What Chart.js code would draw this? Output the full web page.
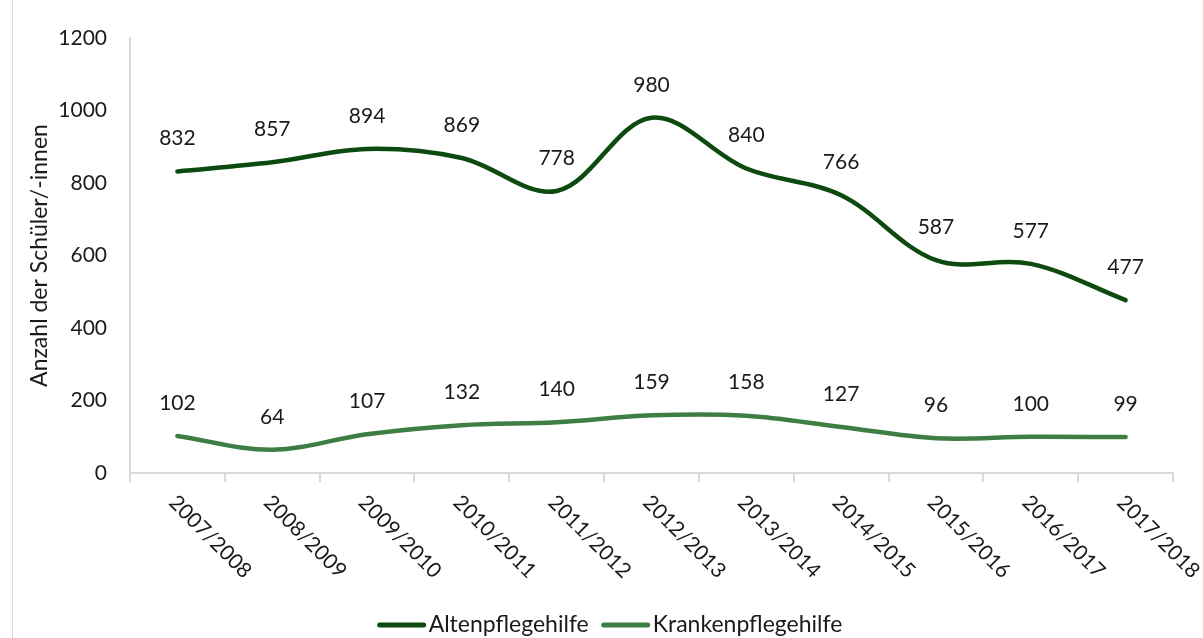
<!DOCTYPE html>
<html>
<head>
    <meta charset="utf-8">
    <title>Schüler/-innen Alten- und Krankenpflegehilfe</title>
    <script src="https://cdn.jsdelivr.net/npm/chart.js"></script>
    <style>
        body {
            margin: 0;
            background: #fff;
            font-family: 'Lato', sans-serif;
        }
        .wrap {
            position: relative;
            width: 1203px;
            height: 638px;
        }
        .frame {
            position: absolute;
            left: 12px;
            top: 0;
            width: 1px;
            height: 638px;
            background: #d9d9d9;
        }
    </style>
</head>
<body>
    <div class="wrap">
        <div class="frame"></div>
        <canvas id="chart"></canvas>
    </div>

    <script>
        const years = ['2007/2008', '2008/2009', '2009/2010', '2010/2011', '2011/2012', '2012/2013',
                       '2013/2014', '2014/2015', '2015/2016', '2016/2017', '2017/2018'];
        const altenpflege = [832, 857, 894, 869, 778, 980, 840, 766, 587, 577, 477];
        const krankenpflege = [102, 64, 107, 132, 140, 159, 158, 127, 96, 100, 99];
        const yTicks = [0, 200, 400, 600, 800, 1000, 1200];

        const FONT = 'Lato';
        const FSIZE = 21;
        const TEXT = '#1a1a1a';
        const AXIS = '#d9d9d9';

        // Werte über den Punkten
        const valueLabels = {
            id: 'valueLabels',
            afterDatasetsDraw(chart) {
                const ctx = chart.ctx;
                ctx.save();
                ctx.font = FSIZE + 'px ' + FONT;
                ctx.fillStyle = TEXT;
                ctx.textAlign = 'center';
                ctx.textBaseline = 'middle';
                chart.data.datasets.forEach((ds, i) => {
                    chart.getDatasetMeta(i).data.forEach((pt, j) => {
                        ctx.fillText(ds.data[j], pt.x, pt.y - 33);
                    });
                });
                ctx.restore();
            }
        };

        // schräge Jahresbeschriftung (nach rechts unten)
        const yearLabels = {
            id: 'yearLabels',
            afterDraw(chart) {
                const ctx = chart.ctx;
                const sx = chart.scales.x;
                ctx.save();
                ctx.font = FSIZE + 'px ' + FONT;
                ctx.fillStyle = TEXT;
                ctx.textAlign = 'left';
                ctx.textBaseline = 'middle';
                years.forEach((y, i) => {
                    const x = sx.getPixelForValue(i);
                    ctx.save();
                    ctx.translate(x - 5, sx.top + 26);
                    ctx.rotate(Math.PI / 4);
                    ctx.fillText(y, 0, 0);
                    ctx.restore();
                });
                ctx.restore();
            }
        };

        // Legende unten, Linie direkt vor dem Text
        const lineLegend = {
            id: 'lineLegend',
            afterDraw(chart) {
                const ctx = chart.ctx;
                const lineW = 48, gap = 3, itemGap = 13, y = 625, cx = 610;
                ctx.save();
                ctx.font = '23px ' + FONT;
                const items = chart.data.datasets.map(ds => ({
                    text: ds.label, color: ds.borderColor, w: ctx.measureText(ds.label).width
                }));
                const total = items.reduce((s, it) => s + lineW + gap + it.w, 0) + itemGap * (items.length - 1);
                let x = cx - total / 2;
                ctx.textAlign = 'left';
                ctx.textBaseline = 'middle';
                items.forEach(it => {
                    ctx.strokeStyle = it.color;
                    ctx.lineWidth = 5;
                    ctx.lineCap = 'round';
                    ctx.beginPath();
                    ctx.moveTo(x + 2, y);
                    ctx.lineTo(x + lineW - 2, y);
                    ctx.stroke();
                    ctx.fillStyle = TEXT;
                    ctx.fillText(it.text, x + lineW + gap, y);
                    x += lineW + gap + it.w + itemGap;
                });
                ctx.restore();
            }
        };

        const chart = new Chart(document.getElementById('chart'), {
            type: 'line',
            data: {
                labels: years,
                datasets: [{
                    label: 'Altenpflegehilfe',
                    data: altenpflege,
                    borderColor: '#0c4a10',
                    backgroundColor: '#0c4a10',
                    borderWidth: 4.5,
                    borderCapStyle: 'round',
                    pointRadius: 0,
                    tension: 0.35
                }, {
                    label: 'Krankenpflegehilfe',
                    data: krankenpflege,
                    borderColor: '#3e7e44',
                    backgroundColor: '#3e7e44',
                    borderWidth: 4.5,
                    borderCapStyle: 'round',
                    pointRadius: 0,
                    tension: 0.35
                }]
            },
            plugins: [valueLabels, yearLabels, lineLegend],
            options: {
                responsive: true,
                maintainAspectRatio: false,
                animation: false,
                layout: {
                    padding: { left: 12, right: 30, top: 38, bottom: 0 }
                },
                plugins: {
                    tooltip: { enabled: false },
                    legend: { display: false }
                },
                scales: {
                    x: {
                        offset: true,
                        grid: {
                            offset: true,
                            drawOnChartArea: false,
                            drawTicks: true,
                            tickLength: 9,
                            color: AXIS,
                            lineWidth: 2
                        },
                        border: { color: AXIS, width: 2 },
                        ticks: { display: false },
                        afterFit(scale) { scale.height = 165; }
                    },
                    y: {
                        min: 0,
                        max: 1200,
                        afterBuildTicks(scale) {
                            scale.ticks = yTicks.map(v => ({ value: v }));
                        },
                        grid: { display: false, drawTicks: false },
                        border: { color: AXIS, width: 2 },
                        ticks: {
                            color: TEXT,
                            padding: 23,
                            font: { family: FONT, size: FSIZE },
                            callback: v => String(v)
                        },
                        title: {
                            display: true,
                            text: 'Anzahl der Schüler/-innen',
                            color: TEXT,
                            font: { family: FONT, size: 23 },
                            padding: { top: 14, bottom: 0 }
                        },
                        afterFit(scale) { scale.width = 118; }
                    }
                }
            }
        });
    </script>
</body>
</html>
